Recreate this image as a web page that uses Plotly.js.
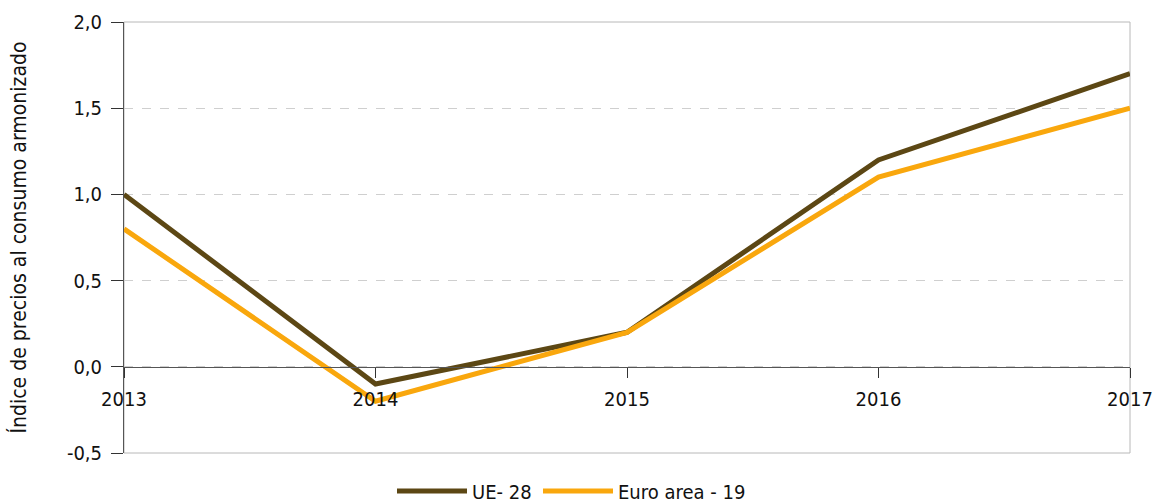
<!DOCTYPE html>
<html>
<head>
<meta charset="utf-8">
<script src="https://cdn.plot.ly/plotly-3.0.1.min.js"></script>
<style>html,body{margin:0;padding:0;background:#fff;}#chart{width:1154px;height:504px;}</style>
</head>
<body>
<div id="chart"></div>
<script>
const years = [2013, 2014, 2015, 2016, 2017];
const ue28 = [1.0, -0.1, 0.2, 1.2, 1.7];
const euro19 = [0.8, -0.2, 0.2, 1.1, 1.5];
const seriesNames = ['UE- 28', 'Euro area - 19'];
const yTitle = 'Índice de precios al consumo armonizado';
const yTicks = [-0.5, 0.0, 0.5, 1.0, 1.5, 2.0];
const yTickText = ['-0,5', '0,0', '0,5', '1,0', '1,5', '2,0'];

const FONT = '"DejaVu Sans Condensed", "DejaVu Sans", sans-serif';
const FS = 20;
const traces = [
  {x: years, y: ue28, name: seriesNames[0], type: 'scatter', mode: 'lines',
   line: {color: '#5c4714', width: 5}, legend: 'legend'},
  {x: years, y: euro19, name: seriesNames[1], type: 'scatter', mode: 'lines',
   line: {color: '#f9a70d', width: 5}, legend: 'legend2'}
];
const yMin = -0.5, yMax = 2.0;
const legendBase = {orientation: 'h', xanchor: 'left', y: -0.088, yanchor: 'middle',
  font: {family: FONT, size: FS, color: '#111'}, itemwidth: 70, bgcolor: 'rgba(0,0,0,0)'};
const layout = {
  width: 1154, height: 504,
  margin: {l: 124, r: 24, t: 22, b: 51, autoexpand: false},
  paper_bgcolor: '#fff', plot_bgcolor: '#fff',
  font: {family: FONT, size: FS, color: '#111'},
  showlegend: true,
  legend: Object.assign({}, legendBase, {x: (392 - 124) / 1006}),
  legend2: Object.assign({}, legendBase, {x: (538 - 124) / 1006}),
  xaxis: {
    type: 'linear', range: [2013, 2017], tickvals: years, ticktext: years.map(String),
    anchor: 'free', position: (0 - yMin) / (yMax - yMin),
    showline: true, linecolor: '#555', linewidth: 1,
    ticks: 'outside', ticklen: 10, tickcolor: '#333', tickwidth: 1,
    ticklabelstandoff: 4,
    showgrid: false, zeroline: false, fixedrange: true,
    tickfont: {family: FONT, size: FS, color: '#111'}
  },
  yaxis: {
    range: [yMin, yMax], tickvals: yTicks, ticktext: yTickText,
    showline: true, linecolor: '#555', linewidth: 1,
    ticks: 'outside', ticklen: 12, tickcolor: '#333', tickwidth: 1,
    ticklabelstandoff: 5,
    showgrid: true, gridcolor: '#cfcfcf', griddash: 'dash', gridwidth: 1,
    zeroline: false,
    title: {text: yTitle, font: {family: FONT, size: 21, color: '#111'}, standoff: 34},
    tickfont: {family: FONT, size: FS, color: '#111'}
  },
  shapes: [
    {type: 'rect', xref: 'paper', yref: 'paper', x0: 0, x1: 1, y0: 0, y1: 1,
     line: {color: '#b8b8b8', width: 1}, layer: 'below'}
  ]
};
Plotly.newPlot('chart', traces, layout, {displayModeBar: false, staticPlot: true});
</script>
</body>
</html>
